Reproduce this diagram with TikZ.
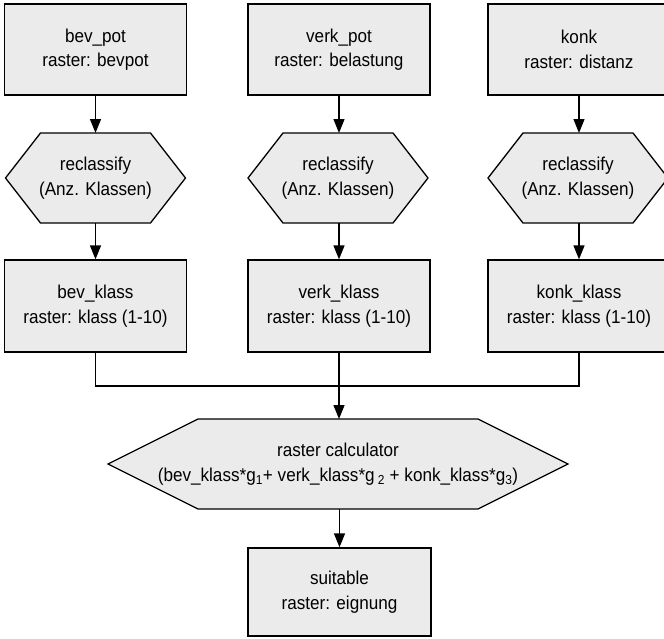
\documentclass[tikz,border=0pt]{standalone}
\usepackage{fontspec}
\setmainfont[FakeStretch=0.92]{Liberation Sans}
\usetikzlibrary{arrows.meta,backgrounds}
\definecolor{boxfill}{HTML}{EBEBEB}
\newcommand{\zw}[1]{\makebox[0pt][c]{#1}}
\begin{document}
\begin{tikzpicture}[x=1pt,y=-1pt,
  every node/.style={font=\fontsize{18.6}{24.5}\selectfont, align=center, inner sep=0pt},
  stepbox/.style={draw, fill=boxfill, line width=1.3pt, minimum width=182pt, minimum height=91pt},
  hexcore/.style={minimum width=110pt, minimum height=90pt, outer sep=0pt},
  arr/.style={line width=1.3pt, -{Triangle[length=14pt,width=11pt]}},
  conn/.style={line width=1.3pt},
  hexline/.style={draw, fill=boxfill, line width=1.3pt, line join=miter}]
\useasboundingbox (0,0) rectangle (664,638);
\clip (0,0) rectangle (664,638);
% top boxes
\node[stepbox] (bevpot) at (95.5,49.5) {bev\_pot\\raster: bevpot};
\node[stepbox] (verkpot) at (339,49.5) {verk\_pot\\raster: belastung};
\node[stepbox] (konk) at (579,49.5) {konk\\raster: distanz};
% reclassify hexagons
\node[hexcore] (rc1) at (95.5,178) {\zw{reclassify}\\\zw{(Anz. Klassen)}};
\node[hexcore] (rc2) at (338,178) {\zw{reclassify}\\\zw{(Anz. Klassen)}};
\node[hexcore] (rc3) at (578,178) {\zw{reclassify}\\\zw{(Anz. Klassen)}};
% klass boxes
\node[stepbox, minimum height=92pt] (bevklass) at (95.5,306) {bev\_klass\\raster: klass (1-10)};
\node[stepbox, minimum height=92pt] (verkklass) at (339,306) {verk\_klass\\raster: klass (1-10)};
\node[stepbox, minimum height=92pt] (konkklass) at (579,306) {konk\_klass\\raster: klass (1-10)};
% raster calculator
\node[hexcore, minimum width=280pt] (calc) at (338,464) {\zw{raster calculator}\\\zw{(bev\_klass*g\textsubscript{1}+ verk\_klass*g\,\textsubscript{2} + konk\_klass*g\textsubscript{3})}};
% result
\node[stepbox, minimum width=183pt, minimum height=88pt] (suit) at (339.5,592) {suitable\\raster: eignung};
\coordinate (j) at (339,386);
\begin{scope}[on background layer]
  \foreach \h/\t in {rc1/35, rc2/35, rc3/35, calc/90}{
    \path[hexline] (\h.north west) -- (\h.north east) -- ([xshift=\t pt]\h.east)
      -- (\h.south east) -- (\h.south west) -- ([xshift=-\t pt]\h.west) -- cycle;
  }
\end{scope}
% connectors
\draw[arr] (bevpot) -- (rc1);
\draw[arr] (verkpot.south) -- (rc2.north -| verkpot.south);
\draw[arr] (konk) -- (rc3.north -| konk);
\draw[arr] (rc1) -- (bevklass);
\draw[arr] (rc2.south -| verkklass.north) -- (verkklass.north);
\draw[arr] (rc3.south -| konkklass.north) -- (konkklass.north);
\draw[conn] (bevklass.south) |- (j);
\draw[conn] (konkklass.south) |- (j);
\draw[arr] (verkklass.south) -- (calc.north -| verkklass.south);
\draw[arr] (calc.south -| suit.north) -- (suit.north);
\end{tikzpicture}
\end{document}
